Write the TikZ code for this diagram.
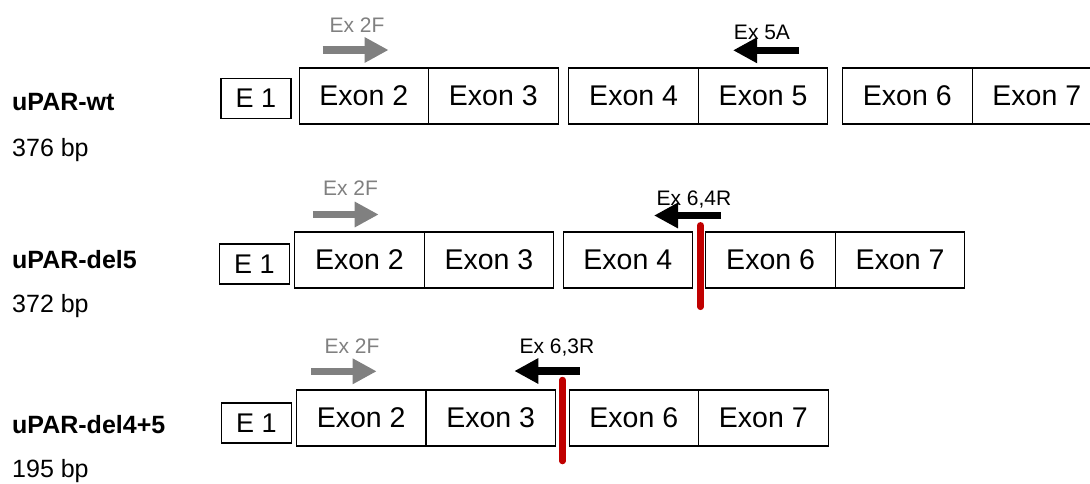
\documentclass[tikz,border=0pt]{standalone}
\usepackage{fontspec}
\setmainfont{Liberation Sans}
\usetikzlibrary{arrows.meta}

\definecolor{primergray}{HTML}{808080}
\definecolor{cutred}{HTML}{C00000}

\begin{document}
\begin{tikzpicture}[x=1pt, y=-1pt]
\tikzset{
   node distance = 129.5pt, >={Triangle[length=24pt, width=24pt]},
   box/.style = {rectangle, draw, line width = 1.1pt, inner sep = 0pt, minimum height = 56pt},
   exon/.style = {box, minimum width = 129.5pt, font = \fontsize{28.5}{30}\selectfont},
   first_exon/.style = {box, minimum width = 70pt, minimum height = 40pt, font = \fontsize{27}{28}\selectfont},
   name_label/.style = {anchor = base west, inner sep = 0pt, font = \bfseries\fontsize{25}{27}\selectfont},
   size_label/.style = {anchor = base west, inner sep = 0pt, font = \fontsize{25}{27}\selectfont},
   primer_label/.style = {anchor = base, inner sep = 0pt, font = \fontsize{21}{23}\selectfont},
   fwd/.style = {->, line width = 7.5pt, primergray},
   rev/.style = {->, line width = 7.5pt, black},
   cut/.style = {line width = 6.5pt, cutred, line cap = round}
}
\useasboundingbox (0,0) rectangle (1090,483);

  % wild type
  \node [name_label] (wt_name) at (12,110) {uPAR-wt};
  \node [size_label] (wt_size) at (12,156) {376 bp};

  \node [first_exon] (wt_e1) at (256,98.5) {E 1};
  \node [exon] (wt_x2) at (363.8,96) {Exon 2};
  \node [exon] (wt_x3) [right of = wt_x2] {Exon 3};
  \node [exon] (wt_x4) [right of = wt_x3, xshift = 10.8pt] {Exon 4};
  \node [exon] (wt_x5) [right of = wt_x4] {Exon 5};
  \node [exon] (wt_x6) [right of = wt_x5, xshift = 14.7pt] {Exon 6};
  \node [exon] (wt_x7) [right of = wt_x6] {Exon 7};

  \node [primer_label, primergray] (wt_fwd_name) at (357,32) {Ex 2F};
  \node [primer_label] (wt_rev_name) at (762,39.5) {Ex 5A};
  \coordinate (wt_fwd_start) at (322.5,50);
  \coordinate (wt_fwd_end) at (388.6,50);
  \coordinate (wt_rev_start) at (799,50.3);
  \coordinate (wt_rev_end) at (733,50.3);
  \draw [fwd] (wt_fwd_start) -- (wt_fwd_end);
  \draw [rev] (wt_rev_start) -- (wt_rev_end);

  % exon 5 deleted
  \node [name_label] (d5_name) at (12,268) {uPAR-del5};
  \node [size_label] (d5_size) at (12,312) {372 bp};

  \node [first_exon] (d5_e1) at (254.5,264) {E 1};
  \node [exon] (d5_x2) at (359.5,260) {Exon 2};
  \node [exon] (d5_x3) [right of = d5_x2] {Exon 3};
  \node [exon] (d5_x4) [right of = d5_x3, xshift = 9.3pt] {Exon 4};
  \node [exon] (d5_x6) [right of = d5_x4, xshift = 13.3pt] {Exon 6};
  \node [exon] (d5_x7) [right of = d5_x6] {Exon 7};

  \node [primer_label, primergray] (d5_fwd_name) at (350.5,195) {Ex 2F};
  \node [primer_label] (d5_rev_name) at (694,205) {Ex 6,4R};
  \coordinate (d5_fwd_start) at (312.8,214.5);
  \coordinate (d5_fwd_end) at (378.7,214.5);
  \coordinate (d5_rev_start) at (721,215.5);
  \coordinate (d5_rev_end) at (654,215.5);
  \draw [fwd] (d5_fwd_start) -- (d5_fwd_end);
  \draw [rev] (d5_rev_start) -- (d5_rev_end);

  \coordinate (d5_cut_top) at (700.5,225.3);
  \coordinate (d5_cut_bottom) at (700.5,306.8);
  \draw [cut] (d5_cut_top) -- (d5_cut_bottom);

  % exons 4 and 5 deleted
  \node [name_label] (d45_name) at (12,433) {uPAR-del4+5};
  \node [size_label] (d45_size) at (12,477) {195 bp};

  \node [first_exon] (d45_e1) at (256.4,423) {E 1};
  \node [exon] (d45_x2) at (361.2,418) {Exon 2};
  \node [exon] (d45_x3) [right of = d45_x2] {Exon 3};
  \node [exon] (d45_x6) [right of = d45_x3, xshift = 13.6pt] {Exon 6};
  \node [exon] (d45_x7) [right of = d45_x6] {Exon 7};

  \node [primer_label, primergray] (d45_fwd_name) at (352,353) {Ex 2F};
  \node [primer_label] (d45_rev_name) at (557,353) {Ex 6,3R};
  \coordinate (d45_fwd_start) at (311,371.3);
  \coordinate (d45_fwd_end) at (376.7,371.3);
  \coordinate (d45_rev_start) at (579.6,371);
  \coordinate (d45_rev_end) at (514.3,371);
  \draw [fwd] (d45_fwd_start) -- (d45_fwd_end);
  \draw [rev] (d45_rev_start) -- (d45_rev_end);

  \coordinate (d45_cut_top) at (562.4,380);
  \coordinate (d45_cut_bottom) at (562.4,461);
  \draw [cut] (d45_cut_top) -- (d45_cut_bottom);

\end{tikzpicture}
\end{document}
